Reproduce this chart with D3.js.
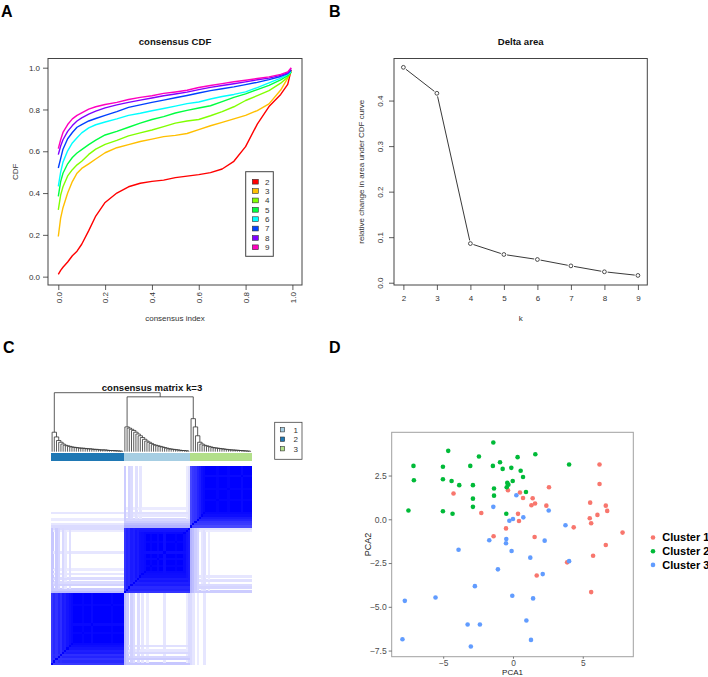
<!DOCTYPE html>
<html><head><meta charset="utf-8">
<script src="https://cdn.jsdelivr.net/npm/d3@7"></script>
<style>
body{margin:0;background:#fff}
svg{display:block}
text{font-family:"Liberation Sans",Arial,Helvetica,sans-serif}
</style>
</head><body>
<svg id="c" width="708" height="677"></svg>
<script>
// ===================== DATA =====================
// Panel A: consensus CDF
const cdfX  = [0,0.01,0.02,0.04,0.06,0.08,0.1,0.13,0.16,0.2,0.25,0.3,0.35,0.4,0.45,0.5,0.55,0.6,0.65,0.7,0.75,0.8,0.85,0.9,0.95,0.98,0.995];
const cdfK2 = [.011,.03,.045,.07,.10,.122,.155,.22,.29,.355,.40,.43,.447,.456,.462,.474,.481,.488,.498,.515,.552,.622,.73,.814,.872,.92,.99];
const cdfK3 = [.192,.28,.33,.40,.455,.495,.518,.54,.563,.593,.617,.632,.647,.658,.67,.676,.685,.704,.722,.738,.755,.772,.795,.827,.893,.95,.985];
const cdfK4 = [.32,.39,.43,.482,.512,.535,.552,.585,.61,.633,.652,.674,.688,.702,.718,.735,.745,.752,.77,.79,.813,.843,.866,.89,.926,.955,.98];
const cdfK5 = [.384,.455,.495,.54,.57,.592,.608,.632,.653,.678,.695,.715,.735,.752,.766,.783,.796,.807,.818,.838,.858,.875,.895,.915,.942,.962,.978];
const cdfK6 = [.432,.5,.548,.602,.64,.665,.688,.712,.727,.74,.755,.772,.782,.794,.805,.816,.828,.836,.85,.862,.872,.884,.905,.927,.95,.968,.982];
const cdfK7 = [.52,.565,.61,.66,.69,.715,.728,.745,.757,.772,.79,.81,.822,.834,.845,.856,.867,.879,.89,.899,.908,.919,.93,.943,.958,.972,.988];
const cdfK8 = [.584,.625,.655,.695,.723,.745,.76,.778,.792,.808,.822,.834,.845,.855,.866,.874,.883,.895,.906,.915,.923,.932,.942,.95,.963,.975,.997];
const cdfK9 = [.613,.655,.69,.728,.755,.772,.784,.802,.813,.824,.834,.848,.858,.866,.877,.884,.892,.905,.915,.924,.933,.94,.948,.956,.968,.98,1.0];
const kLabels = ["2","3","4","5","6","7","8","9"];
const kColors = ["#FF0000","#FFBF00","#80FF00","#00FF40","#00FFFF","#0040FF","#8000FF","#FF00BF"];
const cdfTicks = [0,0.2,0.4,0.6,0.8,1.0];

// Panel B: delta area
const deltaK   = [2,3,4,5,6,7,8,9];
const deltaVal = [0.473,0.416,0.086,0.062,0.051,0.037,0.024,0.016];
const deltaYTicks = [0,0.1,0.2,0.3,0.4];

// Panel C: consensus matrix k=3 (samples in dendrogram order)
const clusterLabels = ["1","2","3"];
const clusterColors = {"1":"#A6CEE3","2":"#1F78B4","3":"#B2DF8A"};
// cluster 2 (33 samples)
const own2   = [0.78,0.84,0.8,0.86,0.82,0.9,0.88,0.92,0.95,0.97,1,1,1,1,0.98,1,1,1,0.97,1,1,1,1,1,1,1,1,0.98,1,1,1,1,1];
const aff2to1= [0.22,0,0.2,0.16,0,0.15,0.1,0,0.12,0,0,0,0,0,0,0,0,0,0,0,0,0,0,0,0,0,0,0,0,0,0,0,0];
const aff2to3= [0,0,0,0,0,0,0,0,0,0,0,0,0,0,0,0,0,0,0,0,0,0,0,0,0,0,0,0,0,0,0,0,0];
// cluster 1 (30 samples)
const own1   = [0.8,0.86,0.84,0.9,0.88,0.92,0.9,0.94,0.95,0.96,1,1,0.98,1,1,0.97,1,1,0.95,1,1,1,1,0.98,1,1,1,0.96,0.92,0.9];
const aff1to2= [0.26,0.2,0,0.18,0.14,0,0.14,0,0.1,0,0.08,0,0,0,0,0,0,0,0.1,0,0,0,0,0,0,0,0,0,0.08,0.14];
const aff1to3= [0.2,0,0.16,0.14,0,0.12,0,0.1,0,0,0,0,0,0,0,0,0,0,0,0,0,0,0,0,0,0,0,0,0.08,0.12];
// cluster 3 (28 samples)
const own3   = [0.72,0.78,0.8,0.86,0.9,0.95,0.97,1,1,1,1,1,0.98,1,1,1,1,0.98,1,1,1,1,1,0.97,1,1,1,1];
const aff3to1= [0.3,0.26,0.2,0.16,0,0.1,0.12,0,0.08,0,0,0,0,0,0,0,0,0,0,0,0,0,0,0,0,0,0,0];
const aff3to2= [0.14,0.1,0,0.08,0,0,0.1,0,0,0,0,0,0,0,0,0,0,0,0,0,0,0,0,0,0,0,0,0];
// dendrogram merge heights (caterpillar within each cluster)
const dendH2 = [0.33,0.25,0.19,0.16,0.13,0.11,0.10,0.09,0.08,0.075,0.07,0.065,0.06,0.06,0.055,0.05,0.05,0.045,0.04,0.04,0.035,0.03,0.03,0.03,0.025,0.02,0.02,0.02,0.015,0.015,0.01,0.01];
const dendH1 = [0.42,0.40,0.38,0.36,0.33,0.30,0.27,0.24,0.21,0.18,0.16,0.14,0.12,0.11,0.10,0.09,0.08,0.07,0.06,0.05,0.045,0.04,0.035,0.03,0.025,0.02,0.02,0.015,0.015];
const dendH3 = [0.56,0.42,0.27,0.16,0.13,0.11,0.10,0.09,0.08,0.07,0.065,0.06,0.055,0.05,0.045,0.04,0.035,0.03,0.03,0.025,0.025,0.02,0.02,0.015,0.015,0.01,0.01];
const rootH = 1.0, join13H = 0.93;

// Panel D: PCA
const pcaC1x = [6.20,6.20,2.58,-4.26,-0.36,0.50,0.72,1.41,1.58,1.32,2.39,5.53,6.65,6.75,6.05,5.50,5.60,-2.27,0.36,0.43,-0.50,4.35,7.85,-1.39,1.55,6.65,5.74,3.88,1.70,5.60];
const pcaC1y = [3.13,2.02,1.83,1.47,1.66,1.53,1.22,1.20,0.90,0.80,0.78,0.95,0.78,0.48,0.25,0.06,-0.23,0.36,0.31,-0.10,-0.52,-0.46,-0.76,-0.97,-1.01,-1.47,-2.08,-2.46,-3.21,-4.16];
const pcaC2x = [-1.41,-4.64,-2.44,1.60,-7.13,-5.02,-3.06,-1.44,-0.93,0.33,-0.74,-0.12,0.55,0.72,4.02,-7.10,-5.02,-4.40,-3.85,-2.87,-0.02,-0.41,-0.33,-0.45,-1.36,0.93,-1.36,-2.87,-2.87,-7.49,-5.02,-4.33,-0.48];
const pcaC2y = [4.39,3.91,3.59,3.72,3.05,3.00,3.05,3.05,3.26,3.55,2.88,2.94,2.77,2.42,3.13,2.23,2.29,2.19,1.95,1.95,2.19,2.08,1.98,1.83,1.76,1.56,1.35,1.18,0.71,0.50,0.46,0.32,0.32];
const pcaC3x = [0.24,-1.41,2.56,0.74,0.00,-0.26,3.76,-1.70,-0.48,-0.50,2.27,-3.90,-0.10,1.24,4.02,-1.08,2.13,-2.73,-5.55,-7.75,-0.05,1.44,0.96,-3.25,-2.37,1.29,-3.02,-7.92];
const pcaC3y = [1.37,0.71,0.50,0.11,0.02,-0.08,-0.34,-1.20,-1.13,-1.37,-1.22,-1.74,-1.81,-2.19,-2.39,-2.86,-3.13,-3.82,-4.47,-4.66,-4.37,-4.52,-5.78,-6.01,-6.01,-6.89,-7.27,-6.85];
const pcaNames  = ["Cluster 1","Cluster 2","Cluster 3"];
const pcaColors = ["#F8766D","#00BA38","#619CFF"];
const pcaXTicks = [-5,0,5];
const pcaYTicks = [2.5,0,-2.5,-5,-7.5];

// ===================== DRAW =====================
const svg = d3.select("#c");
const AX = "#333";

function letter(t,x,y){
  svg.append("text").attr("x",x).attr("y",y).text(t)
    .attr("font-size",16).attr("font-weight","bold").attr("fill","#000");
}
letter("A",1,17); letter("B",329,17); letter("C",3,353); letter("D",329,353);

function styleAxis(g,fs){
  g.select(".domain").remove();
  g.selectAll("line").attr("stroke",AX).attr("stroke-width",0.8);
  g.selectAll("text").attr("fill",AX).attr("font-size",fs).attr("font-family",null);
}

// ---------- Panel A ----------
{
  const L=48,R=302,T=58.5,B=285;
  const x = d3.scaleLinear().domain([-0.044,1.041]).range([L,R]);
  const y = d3.scaleLinear().domain([-0.04,1.044]).range([B,T]);
  const series=[cdfK2,cdfK3,cdfK4,cdfK5,cdfK6,cdfK7,cdfK8,cdfK9];
  const line=d3.line().x((d,i)=>x(cdfX[i])).y(d=>y(d));
  series.forEach((s,k)=>{
    svg.append("path").datum(s).attr("d",line).attr("fill","none")
      .attr("stroke",kColors[k]).attr("stroke-width",1.4).attr("stroke-linejoin","round");
  });
  svg.append("rect").attr("x",L).attr("y",T).attr("width",R-L).attr("height",B-T)
    .attr("fill","none").attr("stroke","#444").attr("stroke-width",1);
  const gy=svg.append("g").attr("transform",`translate(${L},0)`)
    .call(d3.axisLeft(y).tickValues(cdfTicks).tickFormat(d3.format(".1f")).tickSize(5).tickPadding(3));
  styleAxis(gy,8);
  const gx=svg.append("g").attr("transform",`translate(0,${B})`)
    .call(d3.axisBottom(x).tickValues(cdfTicks).tickFormat(d3.format(".1f")).tickSize(5));
  styleAxis(gx,8);
  gx.selectAll("text").attr("transform","rotate(-90)").attr("x",-7).attr("y",0)
    .attr("dy","0.35em").attr("text-anchor","end");
  svg.append("text").attr("x",(L+R)/2).attr("y",44.5).attr("text-anchor","middle")
    .attr("font-size",9.6).attr("font-weight","bold").attr("fill","#111").text("consensus CDF");
  svg.append("text").attr("x",(L+R)/2).attr("y",321).attr("text-anchor","middle")
    .attr("font-size",8).attr("fill",AX).text("consensus index");
  svg.append("text").attr("transform",`translate(18,${(T+B)/2}) rotate(-90)`).attr("text-anchor","middle")
    .attr("font-size",8).attr("fill",AX).text("CDF");
  // legend
  const lg=svg.append("g");
  lg.append("rect").attr("x",245.7).attr("y",171.7).attr("width",27.6).attr("height",84.6)
    .attr("fill","#fff").attr("stroke","#444").attr("stroke-width",1);
  kLabels.forEach((lab,i)=>{
    const cy=181.7+i*9.37;
    lg.append("rect").attr("x",252.3).attr("y",cy-2.4).attr("width",6).attr("height",4.8)
      .attr("fill",kColors[i]).attr("stroke","#333").attr("stroke-width",0.6);
    lg.append("text").attr("x",265).attr("y",cy).attr("dy","0.35em").attr("font-size",8)
      .attr("fill",AX).text(lab);
  });
}

// ---------- Panel B ----------
{
  const L=394,R=647.3,T=58.5,B=285;
  const x=d3.scaleLinear().domain([1.72,9.28]).range([L,R]);
  const y=d3.scaleLinear().domain([-0.005,0.4924]).range([B,T]);
  const pts=deltaK.map((k,i)=>[x(k),y(deltaVal[i])]);
  const gap=3.2;
  for(let i=0;i<pts.length-1;i++){
    const [x0,y0]=pts[i],[x1,y1]=pts[i+1];
    const dx=x1-x0,dy=y1-y0,len=Math.hypot(dx,dy);
    if(len>2*gap){
      const ux=dx/len,uy=dy/len;
      svg.append("line").attr("x1",x0+ux*gap).attr("y1",y0+uy*gap)
        .attr("x2",x1-ux*gap).attr("y2",y1-uy*gap).attr("stroke","#222").attr("stroke-width",0.9);
    }
  }
  svg.selectAll("circle.dp").data(deltaK).enter().append("circle").attr("class","dp")
    .attr("cx",d=>x(d)).attr("cy",(d,i)=>y(deltaVal[i])).attr("r",1.9)
    .attr("fill","#fff").attr("stroke","#222").attr("stroke-width",0.8);
  svg.append("rect").attr("x",L).attr("y",T).attr("width",R-L).attr("height",B-T)
    .attr("fill","none").attr("stroke","#444").attr("stroke-width",1);
  const gy=svg.append("g").attr("transform",`translate(${L},0)`)
    .call(d3.axisLeft(y).tickValues(deltaYTicks).tickFormat(d3.format(".1f")).tickSize(5));
  styleAxis(gy,8);
  gy.selectAll("text").attr("transform","rotate(-90)").attr("x",0).attr("y",-11.5)
    .attr("dy","0").attr("text-anchor","middle");
  const gx=svg.append("g").attr("transform",`translate(0,${B})`)
    .call(d3.axisBottom(x).tickValues(deltaK).tickFormat(d3.format("d")).tickSize(5).tickPadding(5));
  styleAxis(gx,8);
  svg.append("text").attr("x",(L+R)/2).attr("y",44.5).attr("text-anchor","middle")
    .attr("font-size",9.6).attr("font-weight","bold").attr("fill","#111").text("Delta area");
  svg.append("text").attr("x",(L+R)/2).attr("y",321).attr("text-anchor","middle")
    .attr("font-size",8).attr("fill",AX).text("k");
  svg.append("text").attr("transform",`translate(364,${(T+B)/2}) rotate(-90)`).attr("text-anchor","middle")
    .attr("font-size",8).attr("fill",AX).text("relative change in area under CDF curve");
}

// ---------- Panel C ----------
{
  const samples=[];
  own2.forEach((s,i)=>samples.push({cl:"2",own:s,aff:{"1":aff2to1[i],"3":aff2to3[i]}}));
  own1.forEach((s,i)=>samples.push({cl:"1",own:s,aff:{"2":aff1to2[i],"3":aff1to3[i]}}));
  own3.forEach((s,i)=>samples.push({cl:"3",own:s,aff:{"1":aff3to1[i],"2":aff3to2[i]}}));
  const n=samples.length;
  const hx=d3.scaleBand().domain(d3.range(n)).range([51,251.7]);
  const hy=d3.scaleBand().domain(d3.range(n).reverse()).range([466,664.3]);
  const col=d3.scaleLinear().domain([0,1]).range(["#ffffff","#0000ff"]);
  const val=(i,j)=>{
    const a=samples[i],b=samples[j];
    if(i===j) return 1;
    if(a.cl===b.cl) return Math.min(a.own,b.own);
    return Math.max(a.aff[b.cl]||0,b.aff[a.cl]||0);
  };
  const cells=[];
  for(let i=0;i<n;i++) for(let j=0;j<n;j++){ const v=val(i,j); if(v>0.005) cells.push({i,j,v}); }
  const hm=svg.append("g").attr("shape-rendering","crispEdges");
  hm.selectAll("rect").data(cells).enter().append("rect")
    .attr("x",d=>hx(d.j)).attr("y",d=>hy(d.i))
    .attr("width",hx.bandwidth()+0.5).attr("height",hy.bandwidth()+0.5)
    .attr("fill",d=>col(d.v));
  // color bar
  svg.append("g").attr("shape-rendering","crispEdges").selectAll("rect").data(samples).enter().append("rect")
    .attr("x",(d,i)=>hx(i)).attr("y",452.7).attr("width",hx.bandwidth()+0.5).attr("height",8.3)
    .attr("fill",d=>clusterColors[d.cl]);
  // dendrogram
  let leafIdx=0;
  function cater(heights,count){
    const leaves=d3.range(count).map(()=>({leaf:leafIdx++,height:0}));
    function build(k){
      if(k===count-1) return leaves[k];
      return {height:heights[k],children:[leaves[k],build(k+1)]};
    }
    return build(0);
  }
  const t2=cater(dendH2,own2.length), t1=cater(dendH1,own1.length), t3=cater(dendH3,own3.length);
  const tree={height:rootH,children:[t2,{height:join13H,children:[t1,t3]}]};
  const root=d3.hierarchy(tree);
  const dy=d3.scaleLinear().domain([0,1]).range([451.7,392.7]);
  root.eachAfter(nd=>{
    if(!nd.children) nd.px=hx(nd.data.leaf)+hx.bandwidth()/2;
    else nd.px=d3.mean(nd.children,c=>c.px);
  });
  const dg=svg.append("g").attr("fill","none").attr("stroke","#333").attr("stroke-width",0.8);
  root.each(nd=>{
    if(!nd.children) return;
    const [a,b]=nd.children, h=dy(nd.data.height);
    dg.append("path").attr("d",`M${a.px},${dy(a.data.height)}V${h}H${b.px}V${dy(b.data.height)}`);
  });
  svg.append("text").attr("x",152).attr("y",390.5).attr("text-anchor","middle")
    .attr("font-size",9.6).attr("font-weight","bold").attr("fill","#111").text("consensus matrix k=3");
  // legend
  const lg=svg.append("g");
  lg.append("rect").attr("x",274.7).attr("y",422.3).attr("width",27.3).attr("height",37)
    .attr("fill","#fff").attr("stroke","#444").attr("stroke-width",0.8);
  clusterLabels.forEach((lab,i)=>{
    const cy=429.7+i*9.5;
    lg.append("rect").attr("x",280.3).attr("y",cy-2.2).attr("width",4.4).attr("height",4.4)
      .attr("fill",clusterColors[lab]).attr("stroke","#333").attr("stroke-width",0.6);
    lg.append("text").attr("x",293.5).attr("y",cy).attr("dy","0.35em").attr("font-size",8)
      .attr("fill",AX).text(lab);
  });
}

// ---------- Panel D ----------
{
  const L=391.7,R=633.3,T=432.3,B=656.7;
  const x=d3.scaleLinear().domain([-8.69,8.62]).range([L,R]);
  const y=d3.scaleLinear().domain([-7.85,4.97]).range([B,T]);
  const groups=[[pcaC1x,pcaC1y],[pcaC2x,pcaC2y],[pcaC3x,pcaC3y]];
  groups.forEach(([xs,ys],g)=>{
    svg.append("g").selectAll("circle").data(xs).enter().append("circle")
      .attr("cx",d=>x(d)).attr("cy",(d,i)=>y(ys[i])).attr("r",2.3).attr("fill",pcaColors[g]);
  });
  svg.append("rect").attr("x",L).attr("y",T).attr("width",R-L).attr("height",B-T)
    .attr("fill","none").attr("stroke","#a0a0a0").attr("stroke-width",1);
  const gy=svg.append("g").attr("transform",`translate(${L},0)`)
    .call(d3.axisLeft(y).tickValues(pcaYTicks).tickFormat(d3.format(".1f")).tickSize(3).tickPadding(2));
  styleAxis(gy,8.6);
  gy.selectAll("line").attr("stroke","#555");
  gy.selectAll("text").attr("fill","#4D4D4D");
  const gx=svg.append("g").attr("transform",`translate(0,${B})`)
    .call(d3.axisBottom(x).tickValues(pcaXTicks).tickFormat(d3.format("d")).tickSize(2).tickPadding(1));
  styleAxis(gx,8.4);
  gx.selectAll("line").attr("stroke","#555");
  gx.selectAll("text").attr("fill","#4D4D4D");
  svg.append("text").attr("x",(L+R)/2).attr("y",674.6).attr("text-anchor","middle")
    .attr("font-size",8).attr("fill","#222").text("PCA1");
  svg.append("text").attr("transform",`translate(370.5,${(T+B)/2}) rotate(-90)`).attr("text-anchor","middle")
    .attr("font-size",9).attr("fill","#222").text("PCA2");
  pcaNames.forEach((nm,i)=>{
    const cy=537.5+i*13.7;
    svg.append("circle").attr("cx",653).attr("cy",cy).attr("r",2.3).attr("fill",pcaColors[i]);
    svg.append("text").attr("x",662.3).attr("y",cy).attr("dy","0.35em").attr("font-size",11)
      .attr("font-weight","bold").attr("fill","#000").text(nm);
  });
}
</script>
</body></html>
